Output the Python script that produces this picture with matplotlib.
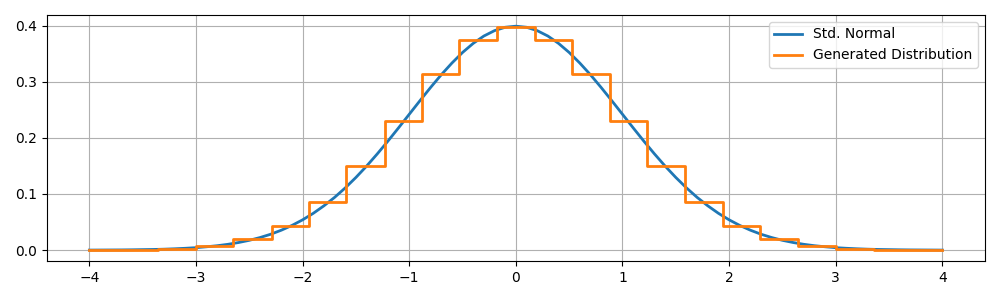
import matplotlib

matplotlib.use("Agg")
import matplotlib.pyplot as plt

# standard normal density, every 0.1
norm_x = [round(-4.0 + 0.1 * i, 1) for i in range(81)]
norm_y = [
    0.0001, 0.0002, 0.0003, 0.0004, 0.0006, 0.0009, 0.0012, 0.0017, 0.0024, 0.0033,
    0.0044, 0.0060, 0.0079, 0.0104, 0.0136, 0.0175, 0.0224, 0.0283, 0.0355, 0.0440,
    0.0540, 0.0656, 0.0790, 0.0940, 0.1109, 0.1295, 0.1497, 0.1714, 0.1942, 0.2179,
    0.2420, 0.2661, 0.2897, 0.3123, 0.3332, 0.3521, 0.3683, 0.3814, 0.3910, 0.3970,
    0.3989,
    0.3970, 0.3910, 0.3814, 0.3683, 0.3521, 0.3332, 0.3123, 0.2897, 0.2661, 0.2420,
    0.2179, 0.1942, 0.1714, 0.1497, 0.1295, 0.1109, 0.0940, 0.0790, 0.0656, 0.0540,
    0.0440, 0.0355, 0.0283, 0.0224, 0.0175, 0.0136, 0.0104, 0.0079, 0.0060, 0.0044,
    0.0033, 0.0024, 0.0017, 0.0012, 0.0009, 0.0006, 0.0004, 0.0003, 0.0002, 0.0001,
]

# generated distribution: step edges and levels
step_edges = [
    -4.0, -3.72, -3.36, -3.0, -2.65, -2.29, -1.94, -1.59, -1.23, -0.885, -0.53, -0.177,
    0.177, 0.53, 0.885, 1.23, 1.59, 1.94, 2.29, 2.65, 3.0, 3.36, 3.72, 4.0,
]
step_levels = [
    0.0002, 0.0008, 0.0025, 0.007, 0.019, 0.043, 0.086, 0.150, 0.230, 0.313, 0.375,
    0.398,
    0.374, 0.313, 0.230, 0.150, 0.086, 0.043, 0.019, 0.007, 0.0025, 0.0008, 0.0002,
]

fig, ax = plt.subplots(figsize=(10, 3))
ax.plot(norm_x, norm_y, lw=2, label="Std. Normal")
ax.step(step_edges, step_levels + [step_levels[-1]], where="post", lw=2,
        label="Generated Distribution")
ax.set_xticks(range(-4, 5))
ax.set_yticks([0.0, 0.1, 0.2, 0.3, 0.4])
ax.grid(True)
ax.legend(loc="upper right")
fig.tight_layout()
fig.savefig("out.png", dpi=100)
